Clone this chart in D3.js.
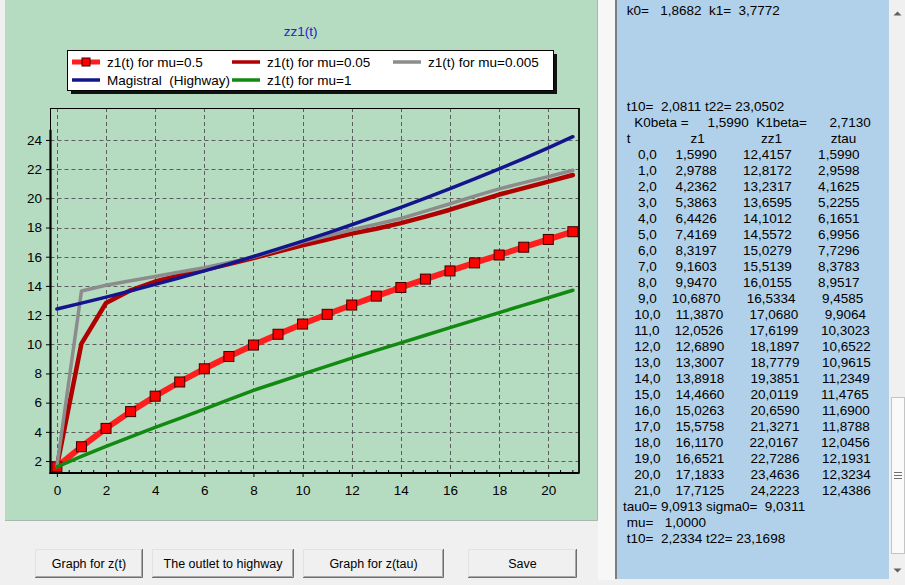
<!DOCTYPE html>
<html>
<head>
<meta charset="utf-8">
<script src="https://cdn.jsdelivr.net/npm/d3@7"></script>
<style>
  html, body { margin: 0; padding: 0; background: #f0f0f0; }
  svg { display: block; font-family: "Liberation Sans", Arial, sans-serif; }
  .pre { white-space: pre; }
</style>
</head>
<body>
<svg id="app" width="905" height="585"></svg>
<script>
// ---- data -------------------------------------------------------------
const tValues = [0, 1, 2, 3, 4, 5, 6, 7, 8, 9, 10, 11, 12, 13, 14, 15, 16, 17, 18, 19, 20, 21];

// table columns printed in the memo
const z1 = [1.5990, 2.9788, 4.2362, 5.3863, 6.4426, 7.4169, 8.3197, 9.1603, 9.9470, 10.6870, 11.3870,
            12.0526, 12.6890, 13.3007, 13.8918, 14.4660, 15.0263, 15.5758, 16.1170, 16.6521, 17.1833, 17.7125];
const zz1 = [12.4157, 12.8172, 13.2317, 13.6595, 14.1012, 14.5572, 15.0279, 15.5139, 16.0155, 16.5334, 17.0680,
             17.6199, 18.1897, 18.7779, 19.3851, 20.0119, 20.6590, 21.3271, 22.0167, 22.7286, 23.4636, 24.2223];
const ztau = [1.5990, 2.9598, 4.1625, 5.2255, 6.1651, 6.9956, 7.7296, 8.3783, 8.9517, 9.4585, 9.9064,
              10.3023, 10.6522, 10.9615, 11.2349, 11.4765, 11.6900, 11.8788, 12.0456, 12.1931, 12.3234, 12.4386];

// other trajectories
const z1Mu005 = [1.60, 10.05, 12.83, 13.70, 14.30, 14.72, 15.11, 15.50, 15.90, 16.35, 16.78,
                 17.18, 17.58, 17.92, 18.30, 18.75, 19.22, 19.74, 20.26, 20.70, 21.15, 21.60];
const z1Mu0005 = [1.60, 13.65, 14.04, 14.35, 14.65, 14.95, 15.25, 15.60, 15.97, 16.48, 17.00,
                  17.42, 17.85, 18.22, 18.62, 19.12, 19.63, 20.15, 20.65, 21.08, 21.49, 21.92];
const z1Mu1 = [1.60, 2.32, 3.00, 3.66, 4.30, 4.93, 5.55, 6.20, 6.84, 7.40, 7.95,
               8.50, 9.05, 9.58, 10.10, 10.62, 11.14, 11.66, 12.17, 12.68, 13.19, 13.70];

const seriesNames = ["z1(t) for mu=0.5", "z1(t) for mu=0.05", "z1(t) for mu=0.005", "Magistral  (Highway)", "z1(t) for mu=1"];
const seriesValues = [z1, z1Mu005, z1Mu0005, zz1, z1Mu1];

const xTicks = [0, 2, 4, 6, 8, 10, 12, 14, 16, 18, 20];
const yTicks = [2, 4, 6, 8, 10, 12, 14, 16, 18, 20, 22, 24];

const chartTitle = "zz1(t)";
const k0 = 1.8682, k1 = 3.7772;
const t10a = 2.0811, t22a = 23.0502;
const k0beta = 1.5990, k1beta = 2.7130;
const tau0 = 9.0913, sigma0 = 9.0311, mu = 1.0;
const t10b = 2.2334, t22b = 23.1698;
const buttonLabels = ["Graph for z(t)", "The outlet to highway", "Graph for z(tau)", "Save"];

// ---- styles -----------------------------------------------------------
const seriesStyle = [
  { color: "#ff1e1e", width: 6, marker: true },
  { color: "#b00000", width: 4.5 },
  { color: "#8c8c8c", width: 3.5 },
  { color: "#14148c", width: 3.5 },
  { color: "#128a12", width: 3.5 }
];

const svg = d3.select("#app");
const panelGreen = "#b5dcc1";
const memoBlue = "#b1d1ea";
const textFont = "Liberation Sans, Arial, sans-serif";

// window background
svg.append("rect").attr("width", 905).attr("height", 585).attr("fill", "#f0f0f0");

// chart panel
svg.append("rect").attr("x", 5).attr("y", 0).attr("width", 592).attr("height", 520)
  .attr("fill", panelGreen);
svg.append("path").attr("d", "M5,520.5H597.5V0").attr("fill", "none").attr("stroke", "#a8b8ac");
svg.append("rect").attr("x", 598).attr("y", 0).attr("width", 17).attr("height", 580).attr("fill", "#f7f7f7");

// ---- plot -------------------------------------------------------------
const x = d3.scaleLinear().domain([-0.26, 21.25]).range([50.5, 579]);
const y = d3.scaleLinear().domain([1.18, 26.19]).range([473, 108]);
const [x0, x1] = x.range();
const [yb, yt] = y.range();

const plot = svg.append("g");

// grid
const grid = plot.append("g").attr("stroke", "#5e5e5e").attr("stroke-width", 1)
  .attr("stroke-dasharray", "4,3");
grid.selectAll("line.v").data(xTicks).join("line").attr("class", "v")
  .attr("x1", d => Math.round(x(d)) + 0.5).attr("x2", d => Math.round(x(d)) + 0.5)
  .attr("y1", yt).attr("y2", yb);
grid.selectAll("line.h").data(yTicks).join("line").attr("class", "h")
  .attr("x1", x0).attr("x2", x1)
  .attr("y1", d => Math.round(y(d)) + 0.5).attr("y2", d => Math.round(y(d)) + 0.5);

// frame
plot.append("rect").attr("x", x0).attr("y", yt + 0.5).attr("width", x1 - x0).attr("height", yb - yt)
  .attr("fill", "none").attr("stroke", "#000").attr("stroke-width", 1);
plot.append("line").attr("x1", x1).attr("x2", x1).attr("y1", yt).attr("y2", yb)
  .attr("stroke", "#000").attr("stroke-width", 1.5);

// x axis
const xAxis = d3.axisBottom(x).tickValues(xTicks).tickSize(4).tickPadding(8).tickFormat(d3.format("d"));
const gx = plot.append("g").attr("transform", `translate(0,${yb})`).call(xAxis);
gx.select(".domain").remove();
gx.selectAll("text").attr("font-size", 13.5).attr("fill", "#000").attr("font-family", textFont);
gx.selectAll("line").attr("stroke", "#000");
// minor ticks
const minorX = d3.range(0, 21.01, 0.5).filter(v => v % 2 !== 0);
plot.append("g").selectAll("line").data(minorX).join("line")
  .attr("x1", d => x(d)).attr("x2", d => x(d)).attr("y1", yb - 3).attr("y2", yb)
  .attr("stroke", "#000");
plot.append("line").attr("x1", x0 - 1).attr("x2", x1).attr("y1", yb).attr("y2", yb)
  .attr("stroke", "#000").attr("stroke-width", 2.2);

// y axis
const yAxis = d3.axisLeft(y).tickValues(yTicks).tickSize(4.5).tickPadding(4).tickFormat(d3.format("d"));
const gy = plot.append("g").attr("transform", `translate(${x0},0)`).call(yAxis);
gy.select(".domain").remove();
gy.selectAll("text").attr("font-size", 13.5).attr("fill", "#000").attr("font-family", textFont);
gy.selectAll("line").attr("stroke", "#000");
plot.append("line").attr("x1", x0).attr("x2", x0).attr("y1", y(24.7)).attr("y2", yb + 1)
  .attr("stroke", "#000").attr("stroke-width", 2.2);

// series
const line = d3.line().x((d, i) => x(tValues[i])).y(d => y(d));
seriesValues.forEach((vals, k) => {
  const st = seriesStyle[k];
  plot.append("path").datum(vals).attr("d", line)
    .attr("fill", "none").attr("stroke", st.color).attr("stroke-width", st.width)
    .attr("stroke-linejoin", "round").attr("stroke-linecap", "round");
  if (st.marker) {
    plot.append("g").selectAll("rect").data(vals).join("rect")
      .attr("x", (d, i) => x(tValues[i]) - 5).attr("y", d => y(d) - 5)
      .attr("width", 10).attr("height", 10)
      .attr("fill", "#ff0000").attr("stroke", "#3a0000").attr("stroke-width", 1);
  }
});

// title
svg.append("text").attr("x", 300.5).attr("y", 36).attr("text-anchor", "middle")
  .attr("font-size", 13.5).attr("fill", "#2424c8").text(chartTitle);

// legend
const legend = svg.append("g");
legend.append("rect").attr("x", 71).attr("y", 54).attr("width", 486).attr("height", 40).attr("fill", "#111");
legend.append("rect").attr("x", 67.5).attr("y", 50.5).attr("width", 486).attr("height", 40)
  .attr("fill", "#fff").attr("stroke", "#000");
const legendPos = [[72, 62], [232, 62], [393, 62], [72, 80], [232, 80]];
seriesNames.forEach((name, k) => {
  const [lx, ly] = legendPos[k];
  const st = seriesStyle[k];
  legend.append("line").attr("x1", lx).attr("x2", lx + 28).attr("y1", ly).attr("y2", ly)
    .attr("stroke", st.color).attr("stroke-width", Math.max(st.width - 1, 3.5));
  if (st.marker) {
    legend.append("rect").attr("x", lx + 10).attr("y", ly - 4).attr("width", 8).attr("height", 8)
      .attr("fill", "#ff0000").attr("stroke", "#3a0000");
  }
  legend.append("text").attr("class", "pre").attr("xml:space", "preserve")
    .attr("x", lx + 35).attr("y", ly + 4.8).attr("font-size", 13.5).attr("fill", "#000").text(name);
});

// ---- memo with results ------------------------------------------------
svg.append("rect").attr("x", 615).attr("y", 0).attr("width", 275).attr("height", 579).attr("fill", memoBlue);
svg.append("line").attr("x1", 616).attr("x2", 616).attr("y1", 0).attr("y2", 579)
  .attr("stroke", "#7d7d7d").attr("stroke-width", 2);

const f4 = v => v.toFixed(4).replace(".", ",");
const f1 = v => v.toFixed(1).replace(".", ",");
const memoLines = [];
memoLines[0] = " k0=   " + f4(k0) + "  k1=  " + f4(k1);
memoLines[6] = " t10=  " + f4(t10a) + " t22= " + f4(t22a);
memoLines[7] = "   K0beta =     " + f4(k0beta) + "  K1beta=      " + f4(k1beta);
memoLines[8] = " t" + " ".repeat(16) + "z1" + " ".repeat(15) + "zz1" + " ".repeat(13) + "ztau";
tValues.forEach((t, i) => {
  memoLines[9 + i] = f1(t).padStart(7) + f4(z1[i]).padStart(11) + f4(zz1[i]).padStart(14) + f4(ztau[i]).padStart(13);
});
memoLines[31] = "tau0= " + f4(tau0) + " sigma0=  " + f4(sigma0);
memoLines[32] = " mu=   " + f4(mu);
memoLines[33] = " t10=  " + f4(t10b) + " t22= " + f4(t22b);

const memo = svg.append("g");
memoLines.forEach((s, i) => {
  if (s === undefined) return;
  memo.append("text").attr("class", "pre").attr("xml:space", "preserve")
    .attr("x", 623).attr("y", 15 + 16 * i).attr("font-size", 13.5).attr("fill", "#000").text(s);
});

// scrollbar
svg.append("rect").attr("x", 889).attr("y", 0).attr("width", 16).attr("height", 579).attr("fill", "#f0f0f0");
svg.append("path").attr("d", "M893.5,15.5 L897.5,11.5 L901.5,15.5 Z").attr("fill", "#606060");
svg.append("path").attr("d", "M893.5,568.5 L897.5,572.5 L901.5,568.5 Z").attr("fill", "#606060");
svg.append("rect").attr("x", 891.5).attr("y", 397.5).attr("width", 13).attr("height", 156)
  .attr("fill", "#fafafa").attr("stroke", "#c4c4c4");
[472, 475, 478].forEach(gy0 => {
  svg.append("line").attr("x1", 894).attr("x2", 902).attr("y1", gy0 + 0.5).attr("y2", gy0 + 0.5)
    .attr("stroke", "#707070");
});

// ---- buttons ----------------------------------------------------------
const buttonBoxes = [[35, 549, 108, 29], [152, 549, 142, 29], [303, 549, 141, 29], [468, 549, 109, 29]];
buttonLabels.forEach((label, i) => {
  const [bx, by, bw, bh] = buttonBoxes[i];
  const g = svg.append("g");
  g.append("rect").attr("x", bx).attr("y", by).attr("width", bw).attr("height", bh).attr("fill", "#f0f0f0");
  g.append("path").attr("d", `M${bx + 0.5},${by + bh} V${by + 0.5} H${bx + bw}`)
    .attr("fill", "none").attr("stroke", "#e2e2e2");
  g.append("path").attr("d", `M${bx},${by + bh - 0.5} H${bx + bw - 0.5} V${by}`)
    .attr("fill", "none").attr("stroke", "#6e6e6e");
  g.append("path").attr("d", `M${bx + 1},${by + bh - 1.5} H${bx + bw - 1.5} V${by + 1}`)
    .attr("fill", "none").attr("stroke", "#a8a8a8");
  g.append("text").attr("x", bx + bw / 2).attr("y", by + bh / 2 + 4.5).attr("text-anchor", "middle")
    .attr("font-size", 12.5).attr("fill", "#000").text(label);
});
</script>
</body>
</html>
